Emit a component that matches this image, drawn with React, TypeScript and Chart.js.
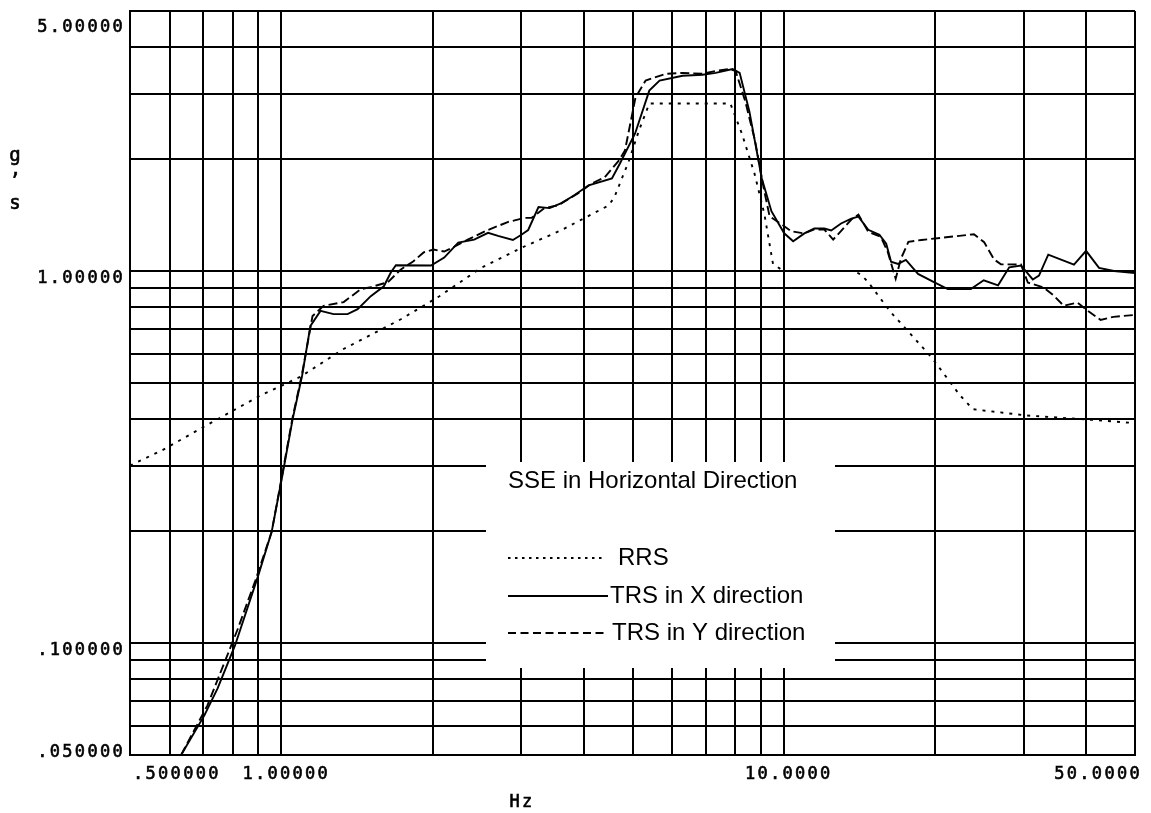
import React, { useEffect, useRef } from 'react';
import { Chart, registerables } from 'chart.js';

Chart.register(...registerables);

// ---- Data ----
const rrsFreq = [0.5, 0.58, 0.72, 0.907, 1.09, 1.33, 1.73, 2.06, 2.5, 3.0, 3.61, 4.48, 4.6, 4.92, 5.15, 5.4, 7.83, 8.26, 8.75, 9.15, 9.52, 10.0, 13.8, 14.24, 14.7, 16.3, 18.1, 19.8, 22.4, 23.8, 30.4, 41.2, 50];
const rrsAccel = [0.30, 0.33, 0.389, 0.462, 0.519, 0.617, 0.742, 0.854, 1.02, 1.153, 1.288, 1.50, 1.577, 1.98, 2.386, 2.82, 2.82, 2.334, 1.822, 1.422, 1.043, 1.0, 1.0, 0.978, 0.936, 0.777, 0.665, 0.58, 0.464, 0.425, 0.409, 0.398, 0.39];

const trsXFreq = [0.632, 0.703, 0.747, 0.809, 0.90, 0.957, 1.005, 1.054, 1.10, 1.143, 1.197, 1.271, 1.355, 1.419, 1.507, 1.60, 1.653, 1.691, 1.986, 2.11, 2.25, 2.42, 2.58, 2.70, 2.89, 3.0, 3.10, 3.25, 3.42, 3.61, 3.83, 4.09, 4.55, 4.72, 5.06, 5.40, 5.66, 6.29, 6.89, 7.32, 7.91, 8.17, 8.54, 9.04, 9.45, 10.02, 10.44, 10.99, 11.5, 12.04, 12.43, 13.0, 13.63, 14.08, 14.73, 15.5, 15.99, 16.35, 16.88, 17.5, 18.5, 19.9, 21.2, 23.56, 25.0, 26.7, 28.1, 29.65, 31.3, 32.2, 33.6, 37.8, 39.96, 42.4, 45.4, 50];
const trsXAccel = [0.05, 0.0639, 0.0755, 0.0985, 0.152, 0.199, 0.282, 0.401, 0.523, 0.712, 0.781, 0.766, 0.766, 0.790, 0.856, 0.910, 0.992, 1.036, 1.035, 1.087, 1.192, 1.214, 1.267, 1.243, 1.212, 1.250, 1.289, 1.486, 1.476, 1.522, 1.599, 1.70, 1.774, 1.946, 2.343, 3.055, 3.25, 3.35, 3.37, 3.41, 3.49, 3.41, 2.69, 1.776, 1.448, 1.263, 1.202, 1.262, 1.302, 1.301, 1.285, 1.342, 1.383, 1.40, 1.291, 1.252, 1.184, 1.059, 1.045, 1.071, 0.982, 0.934, 0.894, 0.894, 0.944, 0.915, 1.023, 1.035, 0.949, 0.972, 1.107, 1.04, 1.133, 1.02, 1.0, 0.988];

const trsYFreq = [0.632, 0.713, 0.82, 0.888, 0.957, 1.005, 1.054, 1.10, 1.154, 1.214, 1.331, 1.44, 1.507, 1.63, 1.73, 1.83, 1.92, 2.01, 2.11, 2.21, 2.35, 2.58, 2.83, 3.05, 3.15, 3.34, 3.56, 3.90, 4.15, 4.40, 4.70, 4.83, 5.07, 5.31, 5.82, 6.29, 6.89, 7.32, 7.80, 8.02, 8.38, 8.77, 9.12, 9.37, 9.89, 10.35, 10.99, 11.5, 12.04, 12.54, 13.13, 13.63, 14.08, 14.73, 15.6, 16.1, 16.7, 17.1, 17.7, 18.8, 21.25, 23.9, 25.05, 26.2, 27.05, 29.65, 30.6, 32.9, 34.45, 36.05, 38.45, 40.25, 42.7, 45.3, 50];
const trsYAccel = [0.05, 0.068, 0.1094, 0.1472, 0.199, 0.285, 0.406, 0.529, 0.757, 0.806, 0.825, 0.894, 0.905, 0.933, 1.01, 1.061, 1.122, 1.142, 1.128, 1.163, 1.214, 1.29, 1.355, 1.389, 1.39, 1.476, 1.503, 1.619, 1.72, 1.785, 1.983, 2.108, 2.93, 3.25, 3.39, 3.41, 3.39, 3.45, 3.49, 3.45, 2.863, 2.235, 1.67, 1.404, 1.336, 1.279, 1.262, 1.294, 1.293, 1.215, 1.30, 1.375, 1.418, 1.275, 1.236, 1.126, 0.953, 1.078, 1.198, 1.212, 1.234, 1.256, 1.195, 1.075, 1.042, 1.041, 0.931, 0.903, 0.859, 0.807, 0.822, 0.782, 0.739, 0.753, 0.762];

// Grid positions (log decades) and labelled ticks
const xGridValues = [0.5, 0.6, 0.7, 0.8, 0.9, 1, 2, 3, 4, 5, 6, 7, 8, 9, 10, 20, 30, 40, 50];
const yGridValues = [0.05, 0.06, 0.07, 0.08, 0.09, 0.1, 0.2, 0.3, 0.4, 0.5, 0.6, 0.7, 0.8, 0.9, 1, 2, 3, 4, 5];
const xTickValues = [0.5, 1, 10, 50];
const xTickLabels = ['.500000', '1.00000', '10.0000', '50.0000'];
const yTickValues = [5, 1, 0.1, 0.05];
const yTickLabels = ['5.00000', '1.00000', '.100000', '.050000'];
const xAxisTitle = 'Hz';
const yAxisTitleChars = ['g', '\u2019', 's'];
const legendTitle = 'SSE in Horizontal Direction';
const seriesNames = ['RRS', 'TRS in X direction', 'TRS in Y direction'];

const LINE_W = 1.9;
const RRS_DASH = [3, 6];
const TRSY_DASH = [9, 4];

function monoText(ctx: any, s: string, x: number, y: number) {
  ctx.fillText(s, x, y);
  ctx.strokeText(s, x, y);
}

const decorPlugin = {
  id: 'decor',
  beforeDatasetsDraw(chart: any) {
    const { ctx, chartArea: a } = chart;
    ctx.save();
    ctx.fillStyle = '#ffffff';
    ctx.fillRect(a.left + 356, a.top + 451, 349, 206);
    ctx.restore();
  },
  afterDraw(chart: any) {
    const { ctx, chartArea: a, scales } = chart;
    const xs = scales.x;
    const ys = scales.y;
    ctx.save();
    ctx.fillStyle = '#000';
    ctx.strokeStyle = '#000';
    ctx.lineWidth = 0.6;
    ctx.font = '17px "DejaVu Sans Mono"';
    try { (ctx as any).letterSpacing = '2.3px'; } catch (e) { /* ignore */ }

    // x tick labels
    ctx.textBaseline = 'middle';
    const lastX = xTickValues.length - 1;
    xTickValues.forEach((v, i) => {
      const px = xs.getPixelForValue(v);
      if (i === 0) {
        ctx.textAlign = 'left';
        monoText(ctx, xTickLabels[i], a.left + 3, a.bottom + 20);
      } else if (i === lastX) {
        ctx.textAlign = 'right';
        monoText(ctx, xTickLabels[i], a.right + 7, a.bottom + 20);
      } else {
        ctx.textAlign = 'center';
        monoText(ctx, xTickLabels[i], px + 5, a.bottom + 20);
      }
    });

    // y tick labels
    ctx.textAlign = 'right';
    yTickValues.forEach((v, i) => {
      const py = ys.getPixelForValue(v);
      let off = 8;
      if (v === ys.max) off = 17;
      else if (v === ys.min) off = -2;
      monoText(ctx, yTickLabels[i], a.left - 5, py + off);
    });

    // axis titles
    ctx.textAlign = 'center';
    monoText(ctx, xAxisTitle, a.left + 392, a.bottom + 48);
    ctx.font = '19px "DejaVu Sans Mono"';
    ctx.textBaseline = 'alphabetic';
    monoText(ctx, yAxisTitleChars[0], 16, a.top + 150);
    monoText(ctx, yAxisTitleChars[1], 16, a.top + 176);
    monoText(ctx, yAxisTitleChars[2], 16, a.top + 198);

    // legend box contents
    try { (ctx as any).letterSpacing = '0px'; } catch (e) { /* ignore */ }
    const bl = a.left + 356;
    const bt = a.top + 451;
    ctx.font = '24px "Liberation Sans", Arial, sans-serif';
    ctx.textAlign = 'left';
    ctx.textBaseline = 'middle';
    ctx.fillText(legendTitle, bl + 22, bt + 19);

    const rows = [
      { y: bt + 96, dash: [2.5, 4.5], x2: bl + 117, tx: bl + 132 },
      { y: bt + 134, dash: [], x2: bl + 122, tx: bl + 124 },
      { y: bt + 171, dash: [8, 4.5], x2: bl + 122, tx: bl + 126 },
    ];
    rows.forEach((r, i) => {
      ctx.beginPath();
      ctx.lineWidth = LINE_W;
      ctx.setLineDash(r.dash);
      ctx.moveTo(bl + 22, r.y);
      ctx.lineTo(r.x2, r.y);
      ctx.stroke();
      ctx.setLineDash([]);
      ctx.fillText(seriesNames[i], r.tx, r.y);
    });
    ctx.restore();
  },
};

function toPoints(fs: number[], gs: number[]) {
  return fs.map((f, i) => ({ x: f, y: gs[i] }));
}

export default function App() {
  const ref = useRef<HTMLCanvasElement>(null);

  useEffect(() => {
    const canvas = ref.current;
    if (!canvas) return;
    const gridOpts = { color: '#000', lineWidth: 2, drawTicks: false };
    const borderOpts = { display: true, color: '#000', width: 2 };
    const chart = new Chart(canvas, {
      type: 'line',
      data: {
        datasets: [
          {
            label: seriesNames[0],
            data: toPoints(rrsFreq, rrsAccel),
            borderColor: '#000',
            borderWidth: LINE_W,
            borderDash: RRS_DASH,
            pointRadius: 0,
            fill: false,
            tension: 0,
          },
          {
            label: seriesNames[1],
            data: toPoints(trsXFreq, trsXAccel),
            borderColor: '#000',
            borderWidth: LINE_W,
            pointRadius: 0,
            fill: false,
            tension: 0,
          },
          {
            label: seriesNames[2],
            data: toPoints(trsYFreq, trsYAccel),
            borderColor: '#000',
            borderWidth: LINE_W,
            borderDash: TRSY_DASH,
            pointRadius: 0,
            fill: false,
            tension: 0,
          },
        ],
      },
      options: {
        responsive: false,
        animation: false,
        devicePixelRatio: 1,
        events: [],
        layout: { padding: { left: 130, top: 11, right: 16, bottom: 58 } },
        plugins: {
          legend: { display: false },
          title: { display: false },
          tooltip: { enabled: false },
        },
        scales: {
          x: {
            type: 'logarithmic',
            min: 0.5,
            max: 50,
            afterBuildTicks: (s: any) => {
              s.ticks = xGridValues.map((v) => ({ value: v }));
            },
            ticks: { display: false },
            grid: gridOpts,
            border: borderOpts,
          },
          y: {
            type: 'logarithmic',
            min: 0.05,
            max: 5,
            afterBuildTicks: (s: any) => {
              s.ticks = yGridValues.map((v) => ({ value: v }));
            },
            ticks: { display: false },
            grid: gridOpts,
            border: borderOpts,
          },
        },
      } as any,
      plugins: [decorPlugin],
    });
    return () => chart.destroy();
  }, []);

  return (
    <div style={{ position: 'fixed', left: 0, top: 0, width: 1151, height: 813, background: '#fff' }}>
      <canvas ref={ref} width={1151} height={813} style={{ display: 'block' }} />
    </div>
  );
}
